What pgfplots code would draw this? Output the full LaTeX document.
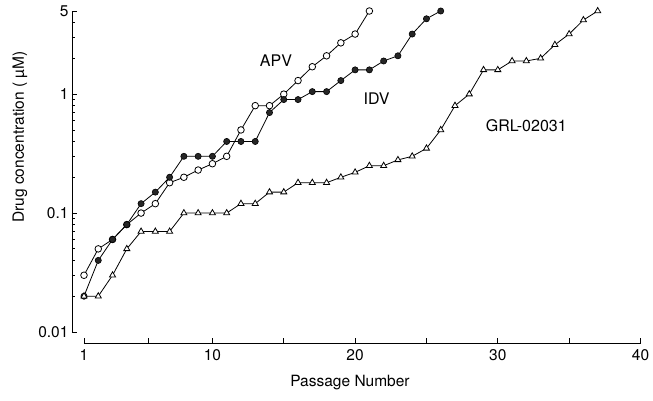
\documentclass[border=0pt]{standalone}
\usepackage{fontspec}
\setmainfont{TeX Gyre Heros}
\usepackage{pgfplots}
\pgfplotsset{compat=1.18}
\usepackage{pgfplotstable}

\pgfplotstableread{
x y
1 0.03
2 0.05
3 0.06
4 0.08
5 0.1
6 0.12
7 0.18
8 0.2
9 0.23
10 0.26
11 0.3
12 0.5
13 0.8
14 0.8
15 1.0
16 1.3
17 1.7
18 2.1
19 2.7
20 3.2
21 5
}\apv

\pgfplotstableread{
x y
1 0.02
2 0.04
3 0.06
4 0.08
5 0.12
6 0.15
7 0.2
8 0.3
9 0.3
10 0.3
11 0.4
12 0.4
13 0.4
14 0.7
15 0.9
16 0.9
17 1.05
18 1.05
19 1.3
20 1.6
21 1.6
22 1.9
23 2.1
24 3.2
25 4.3
26 5
}\idv

\pgfplotstableread{
x y
1 0.02
2 0.02
3 0.03
4 0.05
5 0.07
6 0.07
7 0.07
8 0.1
9 0.1
10 0.1
11 0.1
12 0.12
13 0.12
14 0.15
15 0.15
16 0.18
17 0.18
18 0.18
19 0.2
20 0.22
21 0.25
22 0.25
23 0.28
24 0.3
25 0.35
26 0.5
27 0.8
28 1.0
29 1.6
30 1.6
31 1.9
32 1.9
33 2.0
34 2.6
35 3.2
36 4.2
37 5
}\grl

\begin{document}
\begin{tikzpicture}
\path[use as bounding box] (-84pt,-68pt) rectangle (569pt,332pt);
\begin{axis}[
  at={(0,0)}, anchor=south west,
  scale only axis,
  width=556.5pt, height=321pt,
  ymode=log,
  xmin=1, xmax=40, ymin=0.01, ymax=5,
  clip=false,
  axis x line*=bottom, axis y line*=left,
  axis x line shift=11pt, axis y line shift=12pt,
  axis line style={line width=0.9pt},
  tick align=inside,
  major tick length=5pt, minor tick length=3pt,
  tick style={line width=0.8pt, black},
  xtick={1,5.5,10,15,20,25,30,35,40},
  xticklabels={1,,10,,20,,30,,40},
  ytick={0.01,0.1,1,5},
  yticklabels={0.01,0.1,1,5},
  minor ytick={0.02,0.03,0.04,0.05,0.06,0.07,0.08,0.09,0.2,0.3,0.4,0.5,0.6,0.7,0.8,0.9,2,3,4},
  /pgf/number format/assume math mode=true,
  font=\fontsize{15.5}{18}\selectfont,
  ticklabel style={font=\fontsize{15.5}{18}\selectfont},
  xticklabel style={yshift=-3pt},
  xlabel={Passage Number},
  ylabel={Drug concentration ( \textmu M)},
  xlabel style={at={(axis description cs:0.478,-0.156)}, anchor=center},
  ylabel style={at={(axis description cs:-0.115,0.607)}, anchor=center, rotate=0},
  every axis plot/.append style={line width=0.8pt, black},
]
\addplot[mark=*, mark size=3.3pt, mark options={fill=white, draw=black, line width=0.8pt}] table[x=x,y=y] {\apv};
\addplot[mark=*, mark size=3.1pt, mark options={fill=black!85, draw=black, line width=0.6pt}] table[x=x,y=y] {\idv};
\addplot[mark=triangle*, mark size=3.5pt, mark options={fill=white, draw=black, line width=0.8pt}] table[x=x,y=y] {\grl};
\node[font=\fontsize{16}{18}\selectfont] at (axis cs:14.45,1.9) {APV};
\node[font=\fontsize{16}{18}\selectfont] at (axis cs:21.5,0.91) {IDV};
\node[font=\fontsize{16}{18}\selectfont] at (axis cs:32.0,0.548) {GRL-02031};
\end{axis}
\end{tikzpicture}
\end{document}
